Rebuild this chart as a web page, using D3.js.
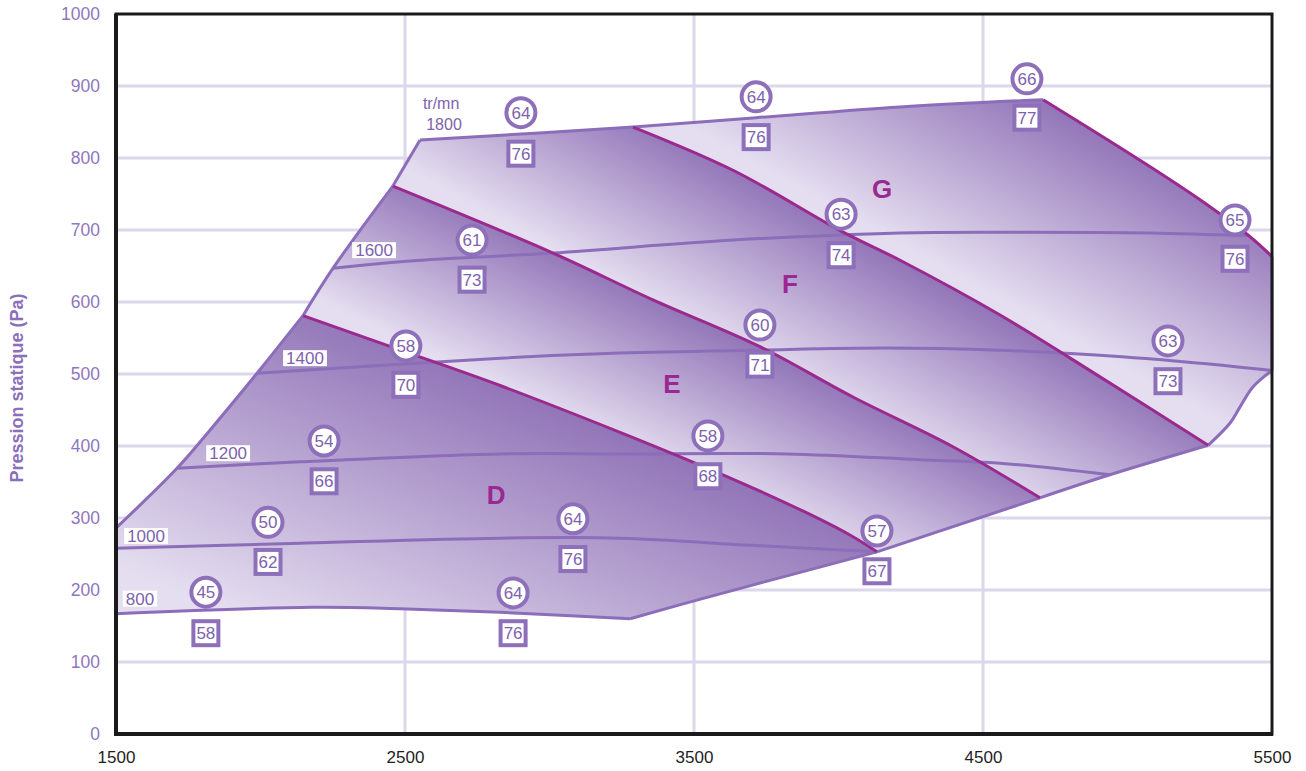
<!DOCTYPE html>
<html><head><meta charset="utf-8">
<script src="https://cdn.jsdelivr.net/npm/d3@7"></script>
<style>body{margin:0;background:#fff} svg{display:block}</style>
</head><body><svg id="c" width="1306" height="771"></svg>
<script>
// ---------- data ----------
const xTicks = [1500, 2500, 3500, 4500, 5500];
const yTicks = [0, 100, 200, 300, 400, 500, 600, 700, 800, 900, 1000];
const yTitle = "Pression statique (Pa)";

// envelope pieces (débit, pression)
const leftD = [[1500,286],[1711,369],[1825,422],[1988,501],[2147,581]];
const leftE = [[2147,581],[2251,647],[2458,761]];
const leftF = [[2458,761],[2552,825]];
const topF = [[2552,825],[3289,843]];
const topG = [[3289,843],[3715,856],[4213,871],[4708,881]];
const gRight = [[4708,881],[5043,797],[5251,742],[5420,692],[5500,663]];
const rightEdge = [[5500,663],[5500,505]];
const lowerRight = [[5500,505],[5434,482],[5389,454],[5355,432],[5279,401]];
const brF = [[5279,401],[4939,360],[4697,328]];
const brE = [[4697,328],[4133,253]];
const brD = [[4133,253],[3510,186],[3279,160]];
const leftFrame = [[1500,167],[1500,286]];

// iso-speed curves (tr/mn)
const rpm800  = [[1500,167],[2182,176],[2483,174],[2829,169],[3279,160]];
const rpm1000 = [[1500,258],[2137,265],[2829,272],[3244,272],[3704,262],[4133,253]];
const rpm1200 = [[1711,369],[2137,378],[2829,389],[3244,389],[3822,389],[4282,381],[4559,376],[4939,360]];
const rpm1400 = [[1988,501],[2829,522],[3244,529],[3704,533],[4168,536],[4559,533],[4905,526],[5251,515],[5500,505]];
const rpm1600 = [[2251,647],[2483,656],[3012,668],[3635,686],[4213,696],[4618,697],[5078,696],[5420,692]];
const rpm1800 = [[2552,825],[3289,843],[3715,856],[4213,871],[4708,881]];

// zone boundaries
const bDE = [[2147,581],[2507,530],[2829,484],[3244,419],[3600,360],[3891,307],[4050,274],[4133,253]];
const bEF = [[2458,761],[3012,668],[3358,603],[3728,538],[4050,468],[4396,399],[4697,328]];
const bFG = [[3289,843],[3635,783],[4016,697],[4213,658],[4559,582],[4905,496],[5279,401]];

// badges: x, y of circle, y of box, circle value, box value
const badgeX    = [1811,2026,2220,2503,2732,2901,2874,3081,3548,3728,4133,3715,4009,4652,5372,5140];
const badgeYc   = [197,294,407,539,686,863,196,299,414,568,282,885,722,910,714,546];
const badgeYb   = [140,239,351,485,631,806,140,243,358,513,226,829,665,856,660,490];
const circleVal = [45,50,54,58,61,64,64,64,58,60,57,64,63,66,65,63];
const boxVal    = [58,62,66,70,73,76,76,76,68,71,67,76,74,77,76,73];

// speed labels
const rpmLabels = ["800","1000","1200","1400","1600"];
const rpmLabelX = [1583,1604,1888,2154,2393];
const rpmLabelY = [188,275,390,522,672];
const unitLabel = ["tr/mn","1800"];
const unitX = [2625,2635];
const unitY = [876,847];

// zone letters
const zoneNames = ["D","E","F","G"];
const zoneX = [2815,3424,3832,4151];
const zoneY = [333,486,625,758];

// ---------- drawing ----------
const L=116, R=1272, T=14, B=734;
const svg = d3.select("#c");
const x = d3.scaleLinear().domain([1500,5500]).range([L,R]);
const y = d3.scaleLinear().domain([0,1000]).range([B,T]);
const P = p => [x(p[0]), y(p[1])];

const purple = "#8c6db9", magenta = "#9a2a8e", grid = "#dcd7ea";
const light = "#e5def0", dark = "#9275b8";
const font = "'Liberation Sans', Arial, sans-serif";

const line = d3.line().x(d=>x(d[0])).y(d=>y(d[1])).curve(d3.curveCatmullRom.alpha(0.5));
const seg = (pts, first) => { const s = line(pts); return first ? s : s.replace(/^M/, "L"); };
const closed = segs => segs.map((s,i)=>seg(s,i===0)).join("") + "Z";

// grid
svg.append("g").selectAll("line").data(xTicks.slice(1,-1)).join("line")
  .attr("x1",d=>x(d)).attr("x2",d=>x(d)).attr("y1",T).attr("y2",B)
  .attr("stroke",grid).attr("stroke-width",3);
svg.append("g").selectAll("line").data(yTicks.slice(1,-1)).join("line")
  .attr("x1",L).attr("x2",R).attr("y1",d=>y(d)).attr("y2",d=>y(d))
  .attr("stroke",grid).attr("stroke-width",3);

// zones
const zones = [
  {segs:[rpm800, brD.slice().reverse(), bDE.slice().reverse(), leftD.slice().reverse(), leftFrame.slice().reverse()], dir:bDE},
  {segs:[bDE, brE.slice().reverse(), bEF.slice().reverse(), leftE.slice().reverse()], dir:bEF},
  {segs:[bEF, brF.slice().reverse(), bFG.slice().reverse(), topF.slice().reverse(), leftF.slice().reverse()], dir:bFG},
  {segs:[bFG, lowerRight.slice().reverse(), rightEdge.slice().reverse(), gRight.slice().reverse(), topG.slice().reverse()], dir:bFG}
];
const defs = svg.append("defs");
zones.forEach((z,i)=>{
  const a = P(z.dir[0]), b = P(z.dir[z.dir.length-1]);
  let ux=b[0]-a[0], uy=b[1]-a[1]; const n0=Math.hypot(ux,uy); ux/=n0; uy/=n0;
  const nx=uy, ny=-ux;
  const pts = z.segs.flat().map(P);
  const ds = pts.map(p=>p[0]*nx+p[1]*ny);
  const dmin=d3.min(ds), dmax=d3.max(ds);
  const cx=d3.mean(pts,p=>p[0]), cy=d3.mean(pts,p=>p[1]);
  const dc=cx*nx+cy*ny;
  const g = defs.append("linearGradient").attr("id","zg"+i).attr("gradientUnits","userSpaceOnUse")
    .attr("x1",cx+nx*(dmin-dc)).attr("y1",cy+ny*(dmin-dc))
    .attr("x2",cx+nx*(dmax-dc)).attr("y2",cy+ny*(dmax-dc));
  g.append("stop").attr("offset",0).attr("stop-color",light);
  g.append("stop").attr("offset",0.12).attr("stop-color",light);
  g.append("stop").attr("offset",1).attr("stop-color",dark);
  svg.append("path").attr("d",closed(z.segs)).attr("fill",`url(#zg${i})`).attr("stroke","none");
});

// iso-speed curves and envelope
const purpleLines = [rpm800,rpm1000,rpm1200,rpm1400,rpm1600,rpm1800,leftD,leftE,leftF,rightEdge,lowerRight,brF,brE,brD];
svg.append("g").selectAll("path").data(purpleLines).join("path")
  .attr("d",d=>line(d)).attr("fill","none").attr("stroke",purple).attr("stroke-width",3);
// zone boundaries
svg.append("g").selectAll("path").data([bDE,bEF,bFG,gRight]).join("path")
  .attr("d",d=>line(d)).attr("fill","none").attr("stroke",magenta).attr("stroke-width",3);

// frame
svg.append("rect").attr("x",L).attr("y",T).attr("width",R-L).attr("height",B-T)
  .attr("fill","none").attr("stroke","#1a1a1a").attr("stroke-width",3);
svg.append("line").attr("x1",L).attr("x2",L).attr("y1",T).attr("y2",B+2).attr("stroke","#1a1a1a").attr("stroke-width",4);
svg.append("line").attr("x1",L-2).attr("x2",R+1).attr("y1",B).attr("y2",B).attr("stroke","#1a1a1a").attr("stroke-width",4);

// axes
const ya = svg.append("g").attr("transform",`translate(${L},0)`)
  .call(d3.axisLeft(y).tickValues(yTicks).tickSize(0).tickPadding(16).tickFormat(d3.format("d")));
ya.select(".domain").remove();
ya.selectAll("text").attr("fill","#8f76bd").style("font-family",font).style("font-size","17.5px");
const xa = svg.append("g").attr("transform",`translate(0,${B})`)
  .call(d3.axisBottom(x).tickValues(xTicks).tickSize(0).tickPadding(17).tickFormat(d3.format("d")));
xa.select(".domain").remove();
xa.selectAll("text").attr("fill","#1e1e1e").style("font-family",font).style("font-size","17px");

svg.append("text").attr("transform",`translate(23,${(T+B)/2+14}) rotate(-90)`)
  .attr("text-anchor","middle").attr("fill","#8a6fba").style("font-family",font)
  .style("font-size","18px").style("font-weight","bold").text(yTitle);

// speed labels
rpmLabels.forEach((t,i)=>{
  const g = svg.append("g").attr("transform",`translate(${x(rpmLabelX[i])},${y(rpmLabelY[i])})`);
  const txt = g.append("text").attr("text-anchor","middle").attr("dy","0.36em")
    .attr("fill","#7e62ad").style("font-family",font).style("font-size","17px").text(t);
  const bb = txt.node().getBBox();
  g.insert("rect","text").attr("x",bb.x-3).attr("y",-8).attr("width",bb.width+6).attr("height",16).attr("fill","#fff");
});
svg.append("g").selectAll("text").data(unitLabel).join("text")
  .attr("x",(d,i)=>x(unitX[i])).attr("y",(d,i)=>y(unitY[i])).attr("dy","0.36em")
  .attr("text-anchor","middle").attr("fill","#7e62ad").style("font-family",font).style("font-size","16px").text(d=>d);

// zone letters
svg.append("g").selectAll("text").data(zoneNames).join("text")
  .attr("x",(d,i)=>x(zoneX[i])).attr("y",(d,i)=>y(zoneY[i])).attr("dy","0.36em")
  .attr("text-anchor","middle").attr("fill","#9b2790").style("font-family",font)
  .style("font-size","26px").style("font-weight","bold").text(d=>d);

// badges
const bg = svg.append("g");
circleVal.forEach((v,i)=>{
  const cx = x(badgeX[i]);
  bg.append("circle").attr("cx",cx).attr("cy",y(badgeYc[i])).attr("r",14.5)
    .attr("fill","#fff").attr("stroke","#8d6fba").attr("stroke-width",4);
  bg.append("text").attr("x",cx).attr("y",y(badgeYc[i])).attr("dy","0.36em").attr("text-anchor","middle")
    .attr("fill","#7e62ad").style("font-family",font).style("font-size","17px").text(v);
  bg.append("rect").attr("x",cx-12.5).attr("y",y(badgeYb[i])-12).attr("width",25).attr("height",24)
    .attr("fill","#fff").attr("stroke","#8d6fba").attr("stroke-width",4);
  bg.append("text").attr("x",cx).attr("y",y(badgeYb[i])).attr("dy","0.36em").attr("text-anchor","middle")
    .attr("fill","#7e62ad").style("font-family",font).style("font-size","17px").text(boxVal[i]);
});
</script></body></html>
